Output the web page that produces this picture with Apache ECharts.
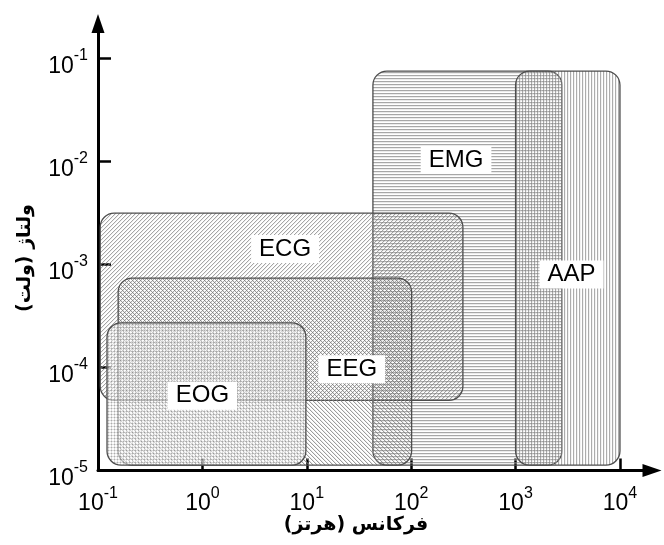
<!DOCTYPE html>
<html>
<head>
<meta charset="utf-8">
<script src="https://cdn.jsdelivr.net/npm/echarts@6/dist/echarts.min.js"></script>
<style>html,body{margin:0;padding:0;background:#fff}#c{width:664px;height:545px}</style>
</head>
<body>
<div id="c"></div>
<script>
// ---- data (draw order) ----
const signals   = ['EMG', 'AAP', 'ECG', 'EEG', 'EOG'];
const freqLow   = [43, 1000, 0.105, 0.156, 0.122];      // Hz
const freqHigh  = [2780, 10000, 313, 101, 9.8];         // Hz
const voltLow   = [1.13e-5, 1.13e-5, 4.8e-5, 1.13e-5, 1.13e-5]; // V
const voltHigh  = [0.075, 0.075, 3.14e-3, 7.36e-4, 2.7e-4];     // V
const labelFreq = [269, 3430, 6.2, 27, 1.0];
const labelVolt = [0.0103, 7.96e-4, 1.41e-3, 9.6e-5, 5.3e-5];
const xTicks = [0.1, 1, 10, 100, 1000, 10000];
const yTicks = [1e-5, 1e-4, 1e-3, 1e-2, 1e-1];
const xTitle = '\u200Fفرکانس (هرتز)\u200F';
const yTitle = '\u200Fولتاژ (ولت)\u200F';

// ---- hatch patterns ----
function makePattern(n, fn) {
  const c = document.createElement('canvas');
  c.width = n; c.height = n;
  const ctx = c.getContext('2d');
  const img = ctx.createImageData(n, n);
  for (let j = 0; j < n; j++) for (let i = 0; i < n; i++) {
    const px = fn(i, j);
    const k = (j * n + i) * 4;
    if (px) { img.data[k] = px[0]; img.data[k+1] = px[1]; img.data[k+2] = px[2]; img.data[k+3] = px[3]; }
  }
  ctx.putImageData(img, 0, 0);
  return { image: c, repeat: 'repeat' };
}
const patterns = {
  EMG: makePattern(3, (i, j) => j === 0 ? [130,130,130,180] : (j === 1 ? [205,205,205,100] : null)),
  AAP: makePattern(3, (i, j) => i === 0 ? [130,130,130,170] : (i === 1 ? [215,215,215,90] : null)),
  ECG: makePattern(4, (i, j) => (i + j) % 4 === 0 ? [120,120,120,170] : ((i + j) % 4 === 1 ? [200,200,200,80] : null)),
  EEG: makePattern(4, (i, j) => ((i - j) % 4 + 4) % 4 === 0 ? [115,115,115,180] : (((i - j) % 4 + 4) % 4 === 1 ? [195,195,195,80] : null)),
  EOG: makePattern(3, (i, j) => (i === 0 || j === 0) ? (i === 0 && j === 0 ? [150,150,150,200] : [200,200,200,160]) : [250,250,250,150])
};

function supLabel(v) {
  const e = Math.round(Math.log10(v));
  return '{b|10}{s|' + e + '}{h|\u200B}';
}
const richLbl = {
  b: { fontSize: 23, lineHeight: 23, verticalAlign: 'bottom', color: '#000', fontFamily: 'Liberation Sans' },
  s: { fontSize: 16, lineHeight: 16, verticalAlign: 'top', color: '#000', fontFamily: 'Liberation Sans' },
  h: { fontSize: 10, lineHeight: 30, width: 0 }
};

const rectData = signals.map((s, k) => ({ name: s, value: [freqLow[k], freqHigh[k], voltLow[k], voltHigh[k]] }));
const lblData = signals.map((s, k) => ({ name: s, value: [labelFreq[k], labelVolt[k]] }));

const chart = echarts.init(document.getElementById('c'), null, { renderer: 'canvas' });
chart.setOption({
  animation: false,
  backgroundColor: '#fff',
  grid: { left: 98, right: 12, top: 23.5, bottom: 74.5, containLabel: false, outerBoundsMode: 'none' },
  xAxis: {
    type: 'log', logBase: 10, min: 0.1, max: 20270,
    axisLine: { show: true, symbol: ['none', 'triangle'], symbolSize: [13, 19], lineStyle: { color: '#000', width: 3 } },
    axisTick: { show: true, inside: true, length: 12, customValues: xTicks, lineStyle: { color: '#000', width: 2.5 } },
    axisLabel: { show: true, customValues: xTicks, margin: 15, formatter: supLabel, rich: richLbl },
    splitLine: { show: false }, minorTick: { show: false }
  },
  yAxis: {
    type: 'log', logBase: 10, min: 1e-5, max: 0.217,
    axisLine: { show: true, symbol: ['none', 'triangle'], symbolSize: [13, 19], lineStyle: { color: '#000', width: 3 } },
    axisTick: { show: true, inside: true, length: 13, customValues: yTicks, lineStyle: { color: '#000', width: 2.5 } },
    axisLabel: { show: true, customValues: yTicks, margin: 10, padding: [9, 0, 0, 0], formatter: supLabel, rich: richLbl },
    splitLine: { show: false }, minorTick: { show: false }
  },
  graphic: [
    { type: 'text', x: 356, y: 525, z: 100, style: { text: xTitle, font: 'bold 19px "DejaVu Sans"', fill: '#000', textAlign: 'center', textVerticalAlign: 'middle' } },
    { type: 'text', x: 25, y: 258, rotation: Math.PI / 2, z: 100, style: { text: yTitle, font: 'bold 19px "DejaVu Sans"', fill: '#000', textAlign: 'center', textVerticalAlign: 'middle' } }
  ],
  series: [
    {
      type: 'custom',
      coordinateSystem: 'cartesian2d',
      silent: true,
      z: 2,
      encode: { x: [0, 1], y: [2, 3] },
      data: rectData,
      renderItem: function (params, api) {
        const p0 = api.coord([api.value(0), api.value(3)]);
        const p1 = api.coord([api.value(1), api.value(2)]);
        const name = signals[params.dataIndex];
        return {
          type: 'rect',
          shape: { x: p0[0], y: p0[1], width: p1[0] - p0[0], height: p1[1] - p0[1], r: 14 },
          style: { fill: patterns[name], stroke: '#4d4d4d', lineWidth: 1.3 }
        };
      }
    },
    {
      type: 'scatter',
      silent: true,
      z: 10,
      symbolSize: 1,
      itemStyle: { color: 'rgba(0,0,0,0)' },
      data: lblData,
      label: {
        show: true, position: 'inside', formatter: '{b}', opacity: 1,
        fontSize: 24, lineHeight: 24, fontFamily: 'Liberation Sans', color: '#000',
        textBorderWidth: 0, backgroundColor: '#fff', padding: [2, 8, 2, 8]
      },
      emphasis: { disabled: true }
    }
  ]
});
</script>
</body>
</html>
